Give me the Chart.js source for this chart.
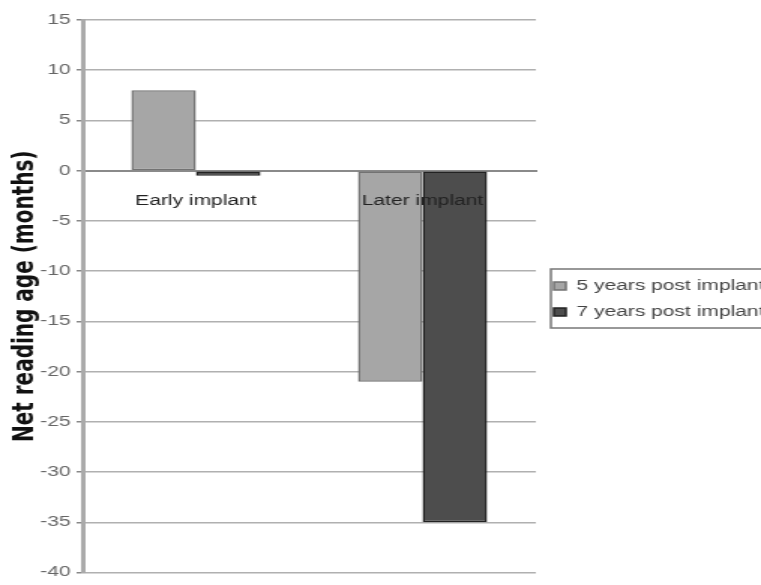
<!DOCTYPE html>
<html>
<head>
<meta charset="utf-8">
<script src="https://cdn.jsdelivr.net/npm/chart.js@4.4.1/dist/chart.umd.min.js"></script>
<style>
  html, body { margin: 0; padding: 0; background: #fff; overflow: hidden; }
  #wrap { width: 507px; height: 585px; transform: scaleX(1.501); transform-origin: 0 0; }
</style>
</head>
<body>
<div id="wrap"><canvas id="myChart" width="507" height="585"></canvas></div>
<script>
// data
const categories = ['Early implant', 'Later implant'];
const fiveYears = [8, -21];
const sevenYears = [-0.5, -35];
const seriesNames = ['5 years post implant', '7 years post implant'];
const yTicks = { min: -40, max: 15, step: 5 };

const FONT = 'Arial, "Liberation Sans", sans-serif';
const LEGEND_WIDTH = 150;

// legend gets a fixed width so the plot ends where the original does,
// and a thin box is drawn round it
const legendBox = {
    id: 'legendBox',
    afterInit(chart) {
        const lg = chart.legend;
        const origFit = lg.fit;
        lg.fit = function () {
            origFit.call(this);
            this.width = LEGEND_WIDTH;
        };
    },
    afterDraw(chart) {
        const lg = chart.legend;
        if (!lg || !lg.legendHitBoxes.length) return;
        const boxes = lg.legendHitBoxes;
        const top = boxes[0].top - 10;
        const bottom = boxes[boxes.length - 1].top + boxes[boxes.length - 1].height + 9;
        const left = boxes[0].left - 2;
        const ctx = chart.ctx;
        ctx.save();
        ctx.strokeStyle = '#777';
        ctx.lineWidth = 1.5;
        ctx.strokeRect(left, top, chart.width - left + 5, bottom - top);
        ctx.restore();
    }
};

var ctx = document.getElementById('myChart').getContext('2d');
var myChart = new Chart(ctx, {
    type: 'bar',
    data: {
        labels: categories,
        datasets: [
            {
                label: seriesNames[0],
                data: fiveYears,
                backgroundColor: '#a6a6a6',
                borderColor: '#727272',
                borderWidth: 1.5,
                borderSkipped: false
            },
            {
                label: seriesNames[1],
                data: sevenYears,
                backgroundColor: '#4d4d4d',
                borderColor: '#222',
                borderWidth: 1.5,
                borderSkipped: false
            }
        ]
    },
    options: {
        responsive: false,
        animation: false,
        layout: { padding: { top: 20, bottom: 7, left: 0, right: 0 } },
        datasets: { bar: { barPercentage: 1, categoryPercentage: 0.57 } },
        scales: {
            x: {
                position: { y: 0 },
                grid: { display: false },
                border: { color: '#8a8a8a', width: 2 },
                ticks: { z: 1, color: '#222', font: { family: FONT, size: 14 }, padding: 14 }
            },
            y: {
                min: yTicks.min,
                max: yTicks.max,
                ticks: { stepSize: yTicks.step, color: '#666', font: { family: FONT, size: 14 }, padding: 4 },
                grid: { color: '#b0b0b0', lineWidth: 1.5, tickLength: 4, tickColor: '#888', tickWidth: 1.5 },
                border: { color: '#aaa', width: 3 },
                title: {
                    display: true,
                    text: 'Net reading age (months)',
                    color: '#111',
                    font: { family: '"DejaVu Sans", sans-serif', size: 20, weight: 'bold' },
                    padding: { top: 5, bottom: 0 }
                },
                afterFit: function (scale) { scale.width = 55; }
            }
        },
        plugins: {
            legend: {
                position: 'right',
                labels: {
                    color: '#444',
                    font: { family: FONT, size: 14 },
                    boxWidth: 8,
                    boxHeight: 8,
                    padding: 12
                }
            },
            tooltip: { enabled: false }
        }
    },
    plugins: [legendBox]
});
</script>
</body>
</html>
